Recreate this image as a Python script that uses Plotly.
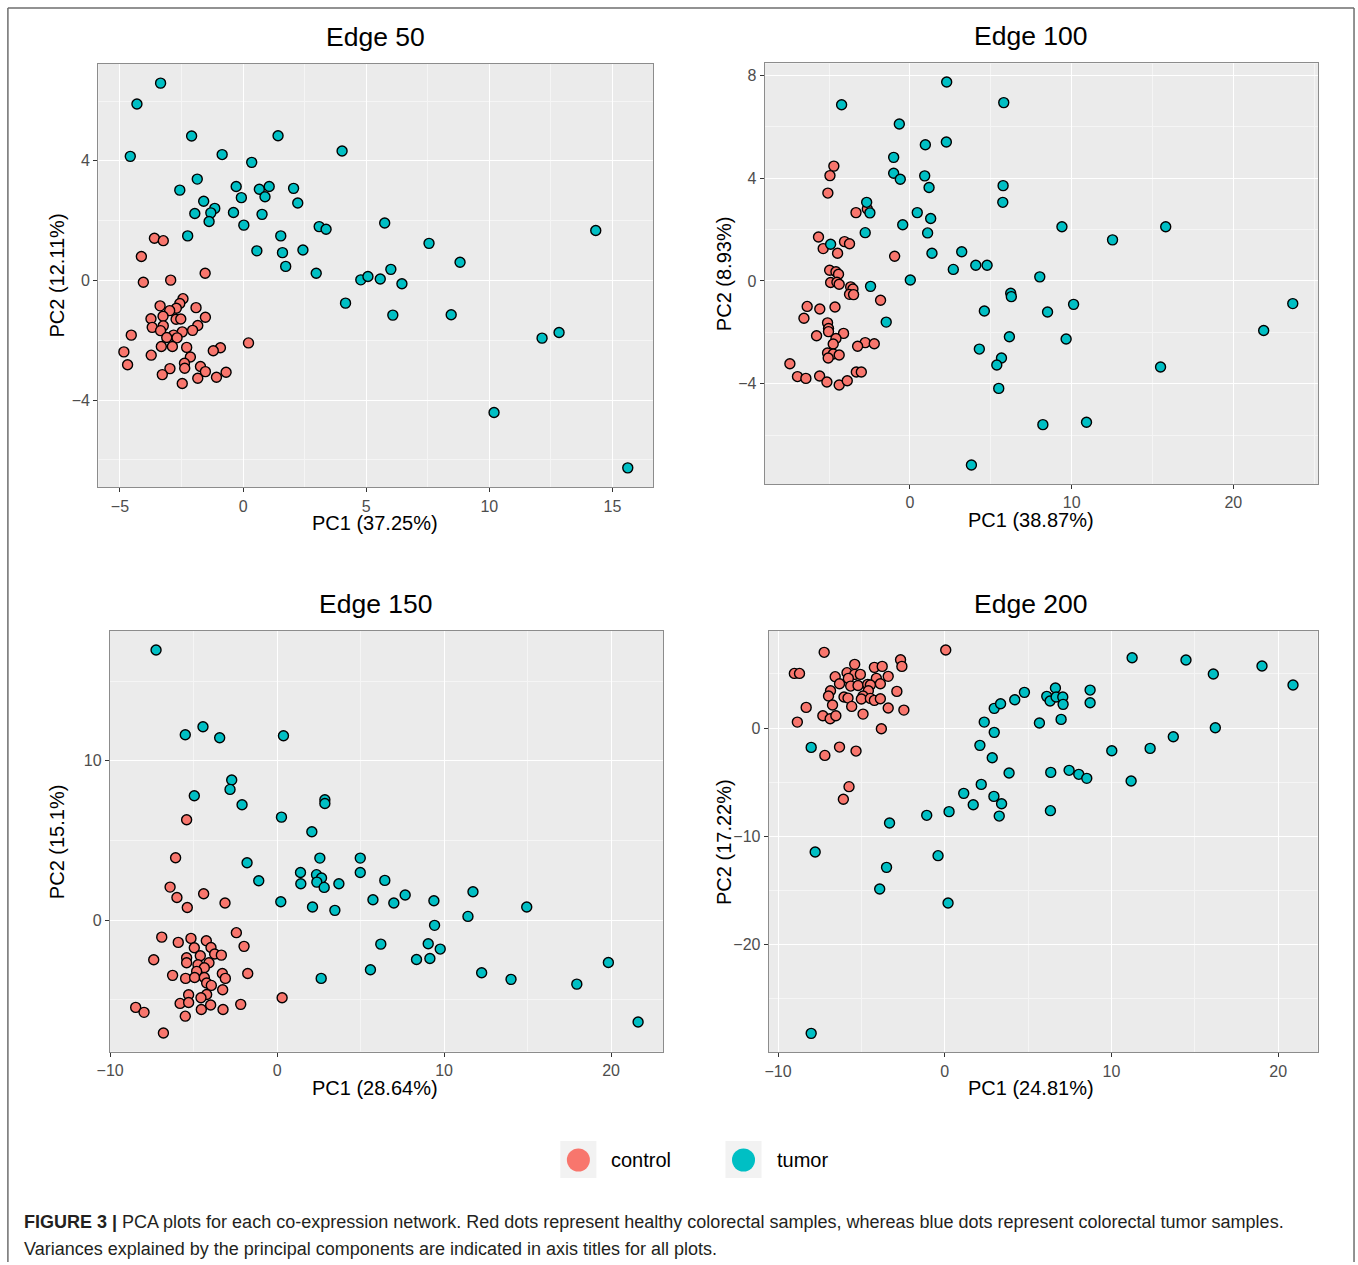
import plotly.graph_objects as go

# ---------------- data ----------------
e50_tumor_x = [-3.35, -4.31, -4.58, -2.09, 1.42, -0.85, 4.02, 0.35, -1.86, -2.57, -0.28, 0.66, 1.06, 2.05, -0.07,
               0.89, -1.60, 2.22, -1.15, -1.31, -1.96, -0.39, 0.77, -1.38, 0.03, 3.09, 3.37, -2.25, 1.53, 0.56,
               1.60, 2.43, 1.73, 2.97, 4.16, 5.75, 14.32, 7.55, 8.81, 6.00, 4.78, 5.07, 5.57, 6.45, 6.08,
               8.45, 12.14, 12.83, 10.19, 15.62]
e50_tumor_y = [6.60, 5.90, 4.15, 4.83, 4.84, 4.21, 4.33, 3.95, 3.39, 3.02, 3.14, 3.05, 3.14, 3.08, 2.77,
               2.80, 2.65, 2.59, 2.41, 2.26, 2.24, 2.27, 2.21, 1.97, 1.85, 1.80, 1.71, 1.49, 1.49, 0.99,
               0.93, 1.02, 0.47, 0.24, -0.76, 1.92, 1.67, 1.24, 0.61, 0.37, 0.02, 0.13, 0.05, -0.11, -1.16,
               -1.15, -1.93, -1.74, -4.42, -6.27]
e50_control_x = [-3.60, -3.24, -4.13, -4.05, -2.94, -1.54, -2.44, -2.57, -3.37, -1.91, -2.71, -2.98, -3.74, -3.25,
                 -2.72, -2.53, -1.53, -3.69, -3.24, -1.84, -3.35, -2.05, -2.47, -4.54, -2.82, -3.10, -2.68, -3.32,
                 -2.87, -2.29, -0.92, -1.21, 0.22, -4.84, -3.73, -2.14, -4.69, -2.38, -2.37, -2.97, -1.73, -1.53,
                 -0.69, -3.28, -1.84, -1.08, -2.47]
e50_control_y = [1.41, 1.33, 0.80, -0.06, 0.01, 0.24, -0.61, -0.77, -0.85, -0.91, -0.93, -1.01, -1.28, -1.20,
                 -1.30, -1.29, -1.23, -1.57, -1.52, -1.51, -1.68, -1.67, -1.72, -1.83, -1.83, -1.91, -1.92, -2.21,
                 -2.21, -2.24, -2.25, -2.35, -2.09, -2.39, -2.50, -2.56, -2.82, -2.77, -2.94, -2.95, -2.88, -3.05,
                 -3.07, -3.15, -3.27, -3.24, -3.45]

e100_tumor_x = [2.27, -4.23, 5.80, -0.66, 0.95, 2.25, -1.01, -1.01, -0.60, 0.91, 1.18, 5.76, 5.74, -2.68, -2.48,
                0.45, 1.28, -0.45, -2.77, 1.09, -4.91, 1.36, 3.20, 2.68, 4.07, 4.77, 0.02, -2.44, 6.23, 6.27,
                -1.47, 4.60, 6.15, 4.29, 5.66, 5.37, 5.49, 3.80, 9.40, 15.82, 12.53, 8.03, 10.12, 8.51, 23.68,
                21.88, 9.66, 15.50, 8.22, 10.92]
e100_tumor_y = [7.74, 6.86, 6.94, 6.11, 5.30, 5.41, 4.81, 4.19, 3.96, 4.09, 3.64, 3.71, 3.06, 3.06, 2.65,
                2.66, 2.43, 2.19, 1.88, 1.87, 1.43, 1.08, 1.14, 0.45, 0.61, 0.61, 0.04, -0.21, -0.48, -0.61,
                -1.60, -1.17, -2.17, -2.65, -3.00, -3.27, -4.18, -7.16, 2.11, 2.11, 1.60, 0.16, -0.91, -1.21, -0.88,
                -1.93, -2.26, -3.35, -5.59, -5.50]
e100_control_x = [-4.71, -4.95, -5.08, -3.34, -2.64, -5.66, -5.37, -4.05, -3.74, -4.48, -0.95, -4.97, -4.58, -4.42,
                  -4.91, -4.52, -4.38, -3.67, -3.53, -3.74, -3.49, -1.82, -6.36, -5.58, -4.64, -6.56, -5.10, -5.04,
                  -5.04, -5.78, -4.11, -4.58, -4.75, -2.77, -2.21, -3.24, -5.10, -4.75, -4.38, -5.06, -7.43, -3.32,
                  -3.01, -6.96, -6.44, -5.59, -5.14, -4.38, -3.88]
e100_control_y = [4.47, 4.10, 3.42, 2.66, 2.80, 1.71, 1.26, 1.53, 1.45, 1.08, 0.96, 0.42, 0.36, 0.26,
                  -0.06, -0.05, -0.13, -0.23, -0.31, -0.52, -0.53, -0.75, -0.99, -1.09, -1.01, -1.45, -1.63, -1.85,
                  -1.97, -2.13, -2.04, -2.24, -2.45, -2.40, -2.44, -2.54, -2.80, -2.84, -2.88, -3.00, -3.22, -3.54,
                  -3.54, -3.72, -3.79, -3.70, -3.93, -4.05, -3.88]

e150_tumor_x = [-7.25, -4.44, -5.50, -3.44, 0.38, -2.72, -2.82, -4.96, -2.10, 2.86, 2.86, 0.26, 2.08, -1.80, 2.56,
                4.98, -1.10, 1.40, 1.42, 2.36, 2.66, 2.38, 2.82, 3.70, 0.22, 2.12, 3.46, 2.64, 4.98, 6.45,
                5.74, 6.99, 7.67, 9.39, 11.73, 11.43, 14.95, 9.43, 6.21, 9.05, 9.77, 8.35, 9.15, 5.59, 12.25,
                14.01, 17.95, 19.84, 21.62]
e150_tumor_y = [16.95, 12.13, 11.63, 11.44, 11.57, 8.79, 8.20, 7.80, 7.24, 7.55, 7.32, 6.46, 5.54, 3.60, 3.89,
                3.89, 2.47, 2.99, 2.28, 2.85, 2.64, 2.38, 2.05, 2.28, 1.15, 0.82, 0.61, -3.66, 2.99, 2.49,
                1.28, 1.07, 1.57, 1.21, 1.78, 0.23, 0.82, -0.33, -1.51, -1.49, -1.82, -2.47, -2.41, -3.12, -3.31,
                -3.72, -4.02, -2.66, -6.40]
e150_control_x = [-5.42, -6.08, -6.41, -6.00, -5.38, -4.40, -3.12, -6.91, -5.92, -5.16, -4.24, -2.44, -4.96, -3.96,
                  -1.98, -3.74, -3.34, -4.60, -7.39, -5.42, -5.42, -4.74, -4.08, -4.36, -4.82, -3.28, -3.10, -1.76,
                  -6.26, -5.48, -4.94, -4.36, -4.22, -3.94, -3.26, -5.30, -4.22, -5.81, -5.30, -4.56, -3.98, -4.54,
                  -3.24, -2.18, -5.50, -8.47, -7.97, -6.81, 0.30]
e150_control_y = [6.30, 3.91, 2.07, 1.42, 0.79, 1.65, 1.07, -1.07, -1.40, -1.15, -1.30, -0.79, -1.74, -1.72,
                  -1.65, -2.13, -2.20, -2.24, -2.49, -2.36, -2.68, -2.80, -2.68, -2.99, -3.22, -3.35, -3.66, -3.35,
                  -3.47, -3.66, -3.60, -3.60, -3.95, -4.10, -4.37, -4.69, -4.67, -5.23, -5.17, -4.87, -5.33, -5.61,
                  -5.61, -5.29, -6.03, -5.48, -5.79, -7.09, -4.87]

e200_tumor_x = [-8.01, -7.77, -8.01, -3.31, -3.49, -3.90, -1.08, -0.40, 0.20, 0.26, 1.14, 1.71, 2.19, 2.95, 3.41,
                3.27, 3.86, 2.11, 2.85, 2.97, 2.37, 2.97, 3.35, 4.20, 11.24, 14.47, 19.03, 16.11, 20.89, 4.78,
                6.64, 6.12, 6.32, 6.68, 7.08, 7.10, 8.72, 8.72, 6.98, 5.68, 16.23, 13.71, 12.32, 10.02, 6.36,
                7.46, 8.04, 8.52, 11.18, 6.34]
e200_tumor_y = [-1.79, -11.46, -28.23, -8.78, -12.88, -14.88, -8.07, -11.80, -16.18, -7.73, -6.04, -7.09, -5.21,
                -6.32, -7.00, -8.14, -4.16, -1.60, -2.74, -0.40, 0.55, 1.82, 2.25, 2.62, 6.50, 6.29, 5.73, 4.99,
                3.98, 3.30, 3.70, 2.93, 2.50, 2.87, 2.87, 2.19, 3.51, 2.34, 0.80, 0.46, 0.03, -0.80, -1.88, -2.10,
                -4.10, -3.91, -4.28, -4.65, -4.90, -7.64]
e200_control_x = [-7.23, 0.06, -9.02, -8.71, -2.65, -2.57, -5.40, -4.22, -3.75, -5.86, -5.40, -5.06, -6.57, -5.78,
                  -4.10, -3.39, -6.31, -5.64, -5.20, -4.62, -3.86, -4.46, -6.85, -4.58, -2.87, -6.97, -6.04, -5.80,
                  -4.90, -5.00, -4.46, -4.22, -3.86, -6.73, -5.58, -8.31, -3.39, -2.45, -4.90, -7.31, -6.87, -6.53,
                  -8.84, -3.80, -6.31, -7.19, -5.32, -5.74, -6.08]
e200_control_y = [7.00, 7.21, 5.05, 5.05, 6.32, 5.70, 5.89, 5.61, 5.70, 5.12, 4.96, 4.96, 4.75, 4.59,
                  4.59, 4.78, 4.10, 3.88, 3.94, 4.04, 4.10, 3.98, 3.45, 3.45, 3.39, 2.96, 2.87, 2.77,
                  2.96, 2.68, 2.74, 2.56, 2.71, 2.13, 2.00, 1.91, 1.85, 1.66, 1.29, 1.14, 0.86, 1.14,
                  0.55, -0.06, -1.76, -2.53, -2.13, -5.42, -6.59]

panel_titles = ["Edge 50", "Edge 100", "Edge 150", "Edge 200"]
x_titles = ["PC1 (37.25%)", "PC1 (38.87%)", "PC1 (28.64%)", "PC1 (24.81%)"]
y_titles = ["PC2 (12.11%)", "PC2 (8.93%)", "PC2 (15.1%)", "PC2 (17.22%)"]
legend_labels = ["control", "tumor"]
caption_bold = "FIGURE 3 |"
caption_line1 = " PCA plots for each co-expression network. Red dots represent healthy colorectal samples, whereas blue dots represent colorectal tumor samples."
caption_line2 = "Variances explained by the principal components are indicated in axis titles for all plots."

# ---------------- layout helpers ----------------
W, H = 1358, 1265
# horizontal correction measured from the rendered page
X_OFF, X_SCALE = 13.1, 0.9896
def PX(p):
    return ((p - X_OFF) / X_SCALE) / W
def PY(p):
    return 1 - p / H

CONTROL = "#F8766D"
TUMOR = "#00BFC4"
FONT = "Liberation Sans, Arial, Helvetica, sans-serif"

panels = [
    dict(tx=e50_tumor_x, ty=e50_tumor_y, cx=e50_control_x, cy=e50_control_y,
         dom_x=(98.3, 652.7), dom_y=(64, 487.3), xr=(-5.88, 16.65), yr=(-6.92, 7.24),
         xt=(0, 5, 2.5), yt=(0, 4, 2), tc=375),
    dict(tx=e100_tumor_x, ty=e100_tumor_y, cx=e100_control_x, cy=e100_control_y,
         dom_x=(764.3, 1317), dom_y=(63.3, 484), xr=(-8.98, 25.24), yr=(-7.90, 8.47),
         xt=(0, 10, 5), yt=(0, 4, 2), tc=1030),
    dict(tx=e150_tumor_x, ty=e150_tumor_y, cx=e150_control_x, cy=e150_control_y,
         dom_x=(110, 662.7), dom_y=(630.7, 1051.7), xr=(-10.01, 23.12), yr=(-8.26, 18.16),
         xt=(0, 10, 5), yt=(0, 10, 5), tc=375),
    dict(tx=e200_tumor_x, ty=e200_tumor_y, cx=e200_control_x, cy=e200_control_y,
         dom_x=(768.3, 1316.7), dom_y=(630.7, 1052.3), xr=(-10.55, 22.37), yr=(-29.98, 9.0),
         xt=(0, 10, 5), yt=(0, 10, 5), tc=1030),
]

fig = go.Figure()
layout = dict(
    width=W, height=H, margin=dict(l=0, r=0, t=0, b=0),
    paper_bgcolor="white", plot_bgcolor="#EBEBEB", showlegend=False,
    font=dict(family=FONT, color="#000000"),
)

annotations = []
shapes = []

for i, p in enumerate(panels):
    n = i + 1
    xa = "x" if n == 1 else f"x{n}"
    ya = "y" if n == 1 else f"y{n}"
    marker_common = dict(size=10, line=dict(color="black", width=1.4))
    fig.add_trace(go.Scatter(x=p["cx"], y=p["cy"], mode="markers", name=legend_labels[0],
                             marker=dict(color=CONTROL, **marker_common), xaxis=xa, yaxis=ya))
    fig.add_trace(go.Scatter(x=p["tx"], y=p["ty"], mode="markers", name=legend_labels[1],
                             marker=dict(color=TUMOR, **marker_common), xaxis=xa, yaxis=ya))
    axis_common = dict(
        showgrid=True, gridcolor="white", gridwidth=1.2, zeroline=False,
        showline=True, mirror=True, linecolor="#8C8C8C", linewidth=1.3,
        ticks="outside", ticklen=4, tickcolor="#333333", tickwidth=1,
        tickfont=dict(size=16, color="#4D4D4D", family=FONT),
        tickmode="linear",
    )
    xkey = "xaxis" if n == 1 else f"xaxis{n}"
    ykey = "yaxis" if n == 1 else f"yaxis{n}"
    layout[xkey] = dict(
        domain=[PX(p["dom_x"][0]), PX(p["dom_x"][1])], range=list(p["xr"]),
        anchor=ya, tick0=p["xt"][0], dtick=p["xt"][1],
        minor=dict(tick0=p["xt"][0], dtick=p["xt"][2], showgrid=True, gridcolor="#F5F5F5", gridwidth=0.7),
        **axis_common)
    layout[ykey] = dict(
        domain=[PY(p["dom_y"][1]), PY(p["dom_y"][0])], range=list(p["yr"]),
        anchor=xa, tick0=p["yt"][0], dtick=p["yt"][1],
        minor=dict(tick0=p["yt"][0], dtick=p["yt"][2], showgrid=True, gridcolor="#F5F5F5", gridwidth=0.7),
        **axis_common)
    tc = p["tc"]
    # panel title
    annotations.append(dict(text=panel_titles[i], x=PX(tc), y=PY(p["dom_y"][0] - 27),
                            xref="paper", yref="paper", showarrow=False,
                            xanchor="center", yanchor="middle",
                            font=dict(size=26.5, color="black", family=FONT)))
    # x title
    annotations.append(dict(text=x_titles[i], x=PX(tc), y=PY(p["dom_y"][1] + 36),
                            xref="paper", yref="paper", showarrow=False,
                            xanchor="center", yanchor="middle",
                            font=dict(size=20, color="black", family=FONT)))
    # y title
    ty_x = 57 if i % 2 == 0 else 723
    annotations.append(dict(text=y_titles[i], x=PX(ty_x), y=PY((p["dom_y"][0] + p["dom_y"][1]) / 2),
                            xref="paper", yref="paper", showarrow=False, textangle=-90,
                            xanchor="center", yanchor="middle",
                            font=dict(size=20, color="black", family=FONT)))

# legend (drawn manually)
for k, (bx, col, lab) in enumerate([(560, CONTROL, legend_labels[0]), (725, TUMOR, legend_labels[1])]):
    shapes.append(dict(type="rect", xref="paper", yref="paper",
                       x0=PX(bx), x1=PX(bx + 36), y0=PY(1178), y1=PY(1141),
                       fillcolor="#F2F2F2", line=dict(width=0)))
    shapes.append(dict(type="circle", xref="paper", yref="paper",
                       x0=PX(bx + 18 - 11.5), x1=PX(bx + 18 + 11.5), y0=PY(1160 + 11.5), y1=PY(1160 - 11.5),
                       fillcolor=col, line=dict(width=0)))
    annotations.append(dict(text=lab, x=PX(bx + 49), y=PY(1160), xref="paper", yref="paper",
                            xanchor="left", yanchor="middle", showarrow=False,
                            font=dict(size=20, color="black", family=FONT)))

# caption
annotations.append(dict(text=f"<b>{caption_bold}</b>{caption_line1}", x=PX(22), y=PY(1222),
                        xref="paper", yref="paper", xanchor="left", yanchor="middle", showarrow=False,
                        font=dict(size=18, color="#231F20", family=FONT)))
annotations.append(dict(text=caption_line2, x=PX(22), y=PY(1249),
                        xref="paper", yref="paper", xanchor="left", yanchor="middle", showarrow=False,
                        font=dict(size=18, color="#231F20", family=FONT)))

# outer frame (left, top, right)
frame = dict(color="#6E6E6E", width=1.5)
shapes.append(dict(type="line", xref="paper", yref="paper", x0=PX(8), x1=PX(8), y0=PY(1262), y1=PY(8), line=frame))
shapes.append(dict(type="line", xref="paper", yref="paper", x0=PX(8), x1=PX(1353), y0=PY(8), y1=PY(8), line=frame))
shapes.append(dict(type="line", xref="paper", yref="paper", x0=PX(1353), x1=PX(1353), y0=PY(1262), y1=PY(8), line=frame))

layout["annotations"] = annotations
layout["shapes"] = shapes
fig.update_layout(**layout)

fig.write_html("out.html", config={"displayModeBar": False},
               post_script="document.body.style.margin='0';document.body.style.overflow='hidden';")
